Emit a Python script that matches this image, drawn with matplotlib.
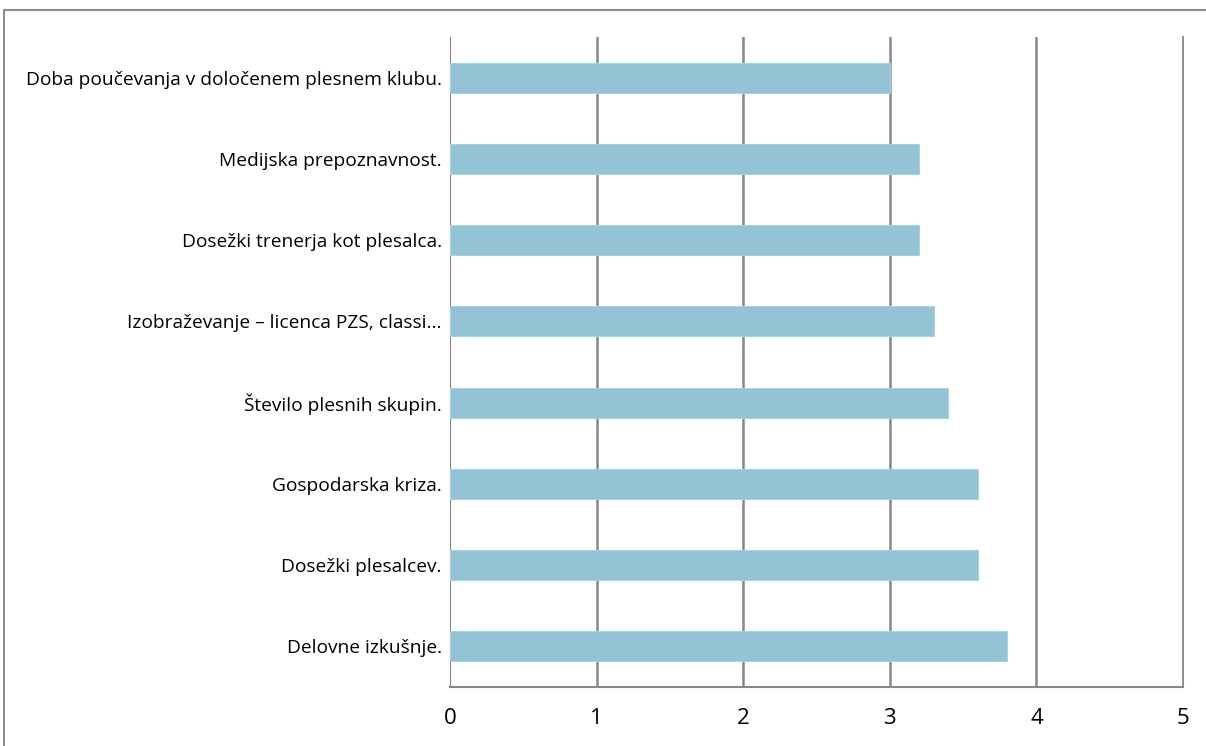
import matplotlib.pyplot as plt
from matplotlib.patches import Rectangle

# categories listed top to bottom, as in the chart
categories = [
    "Doba poučevanja v določenem plesnem klubu.",
    "Medijska prepoznavnost.",
    "Dosežki trenerja kot plesalca.",
    "Izobraževanje – licenca PZS, classi...",
    "Število plesnih skupin.",
    "Gospodarska kriza.",
    "Dosežki plesalcev.",
    "Delovne izkušnje.",
]
values = [3.0, 3.2, 3.2, 3.3, 3.4, 3.6, 3.6, 3.8]
xticks = [0, 1, 2, 3, 4, 5]

plt.rcParams['font.family'] = ['Open Sans', 'DejaVu Sans']

fig = plt.figure(figsize=(12.06, 7.46), dpi=100)
# outer chart frame (runs off the right and bottom edge)
fig.patches.append(Rectangle((4 / 1206, -0.1), 1.2, 736 / 746 + 0.1, transform=fig.transFigure,
                             fill=False, edgecolor='#8c8c8c', lw=1.5))

ax = fig.add_axes([450 / 1206, 59 / 746, 733 / 1206, 650 / 746])
ypos = list(range(len(categories)))
ax.barh(ypos, values, height=0.37, color='#93c3d4', edgecolor='#a9d2e0', lw=0.8, zorder=3)

ax.set_xlim(0, 5)
ax.set_ylim(len(categories) - 0.5, -0.5)
ax.set_xticks(xticks)
ax.set_xticklabels([str(t) for t in xticks], fontsize=16)
ax.set_yticks(ypos)
ax.set_yticklabels(categories, fontsize=13.8)
ax.tick_params(axis='x', length=0, pad=15)
ax.tick_params(axis='y', length=0, pad=6)

for x in xticks[1:-1]:
    ax.axvline(x, color='#868686', lw=1.8, zorder=1)
ax.axvline(5, color='#868686', lw=1.3, zorder=1, clip_on=False)

for s in ['top', 'right']:
    ax.spines[s].set_visible(False)
ax.spines['left'].set_color('#868686')
ax.spines['left'].set_linewidth(0.8)
ax.spines['bottom'].set_color('#868686')
ax.spines['bottom'].set_linewidth(1.5)

fig.savefig('out.png', dpi=100)
